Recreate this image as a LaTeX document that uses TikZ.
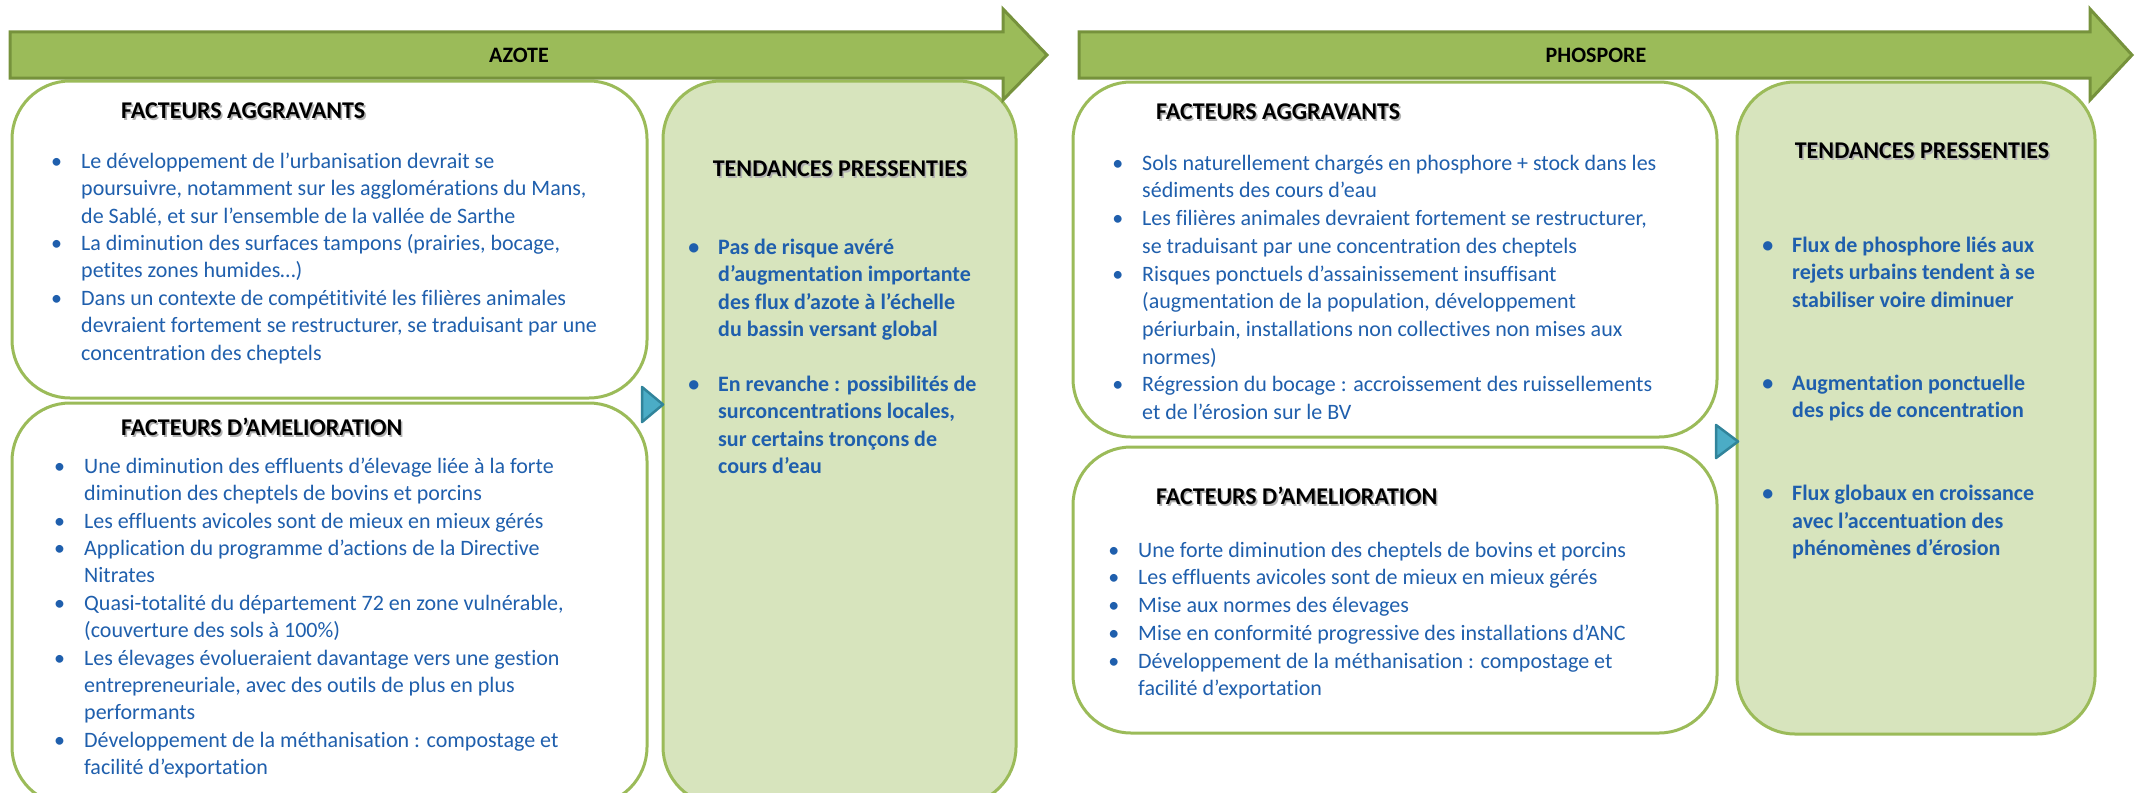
\documentclass[tikz,border=0pt]{standalone}
\usepackage{fontspec}
\setmainfont{Carlito}[Ligatures={NoCommon}]
\definecolor{leafgreen}{HTML}{9BBB59}
\definecolor{darkleaf}{HTML}{76923C}
\definecolor{palegreen}{HTML}{D7E4BD}
\definecolor{textblue}{HTML}{1F5FAD}
\definecolor{tealfill}{HTML}{4BACC6}
\definecolor{tealline}{HTML}{31849B}
\newcommand\bul{\makebox[0pt][r]{\textbullet\hspace{19pt}}}
\newcommand\topstrut{\rule{0pt}{20pt}}
\newcommand\shadowed[1]{\makebox[0pt][l]{\hspace{1.6pt}\raisebox{-1.6pt}{\color{black!30}#1}}#1}

\begin{document}
\begin{tikzpicture}[x=1pt, y=-1pt,
    box/.style={draw=leafgreen, line width=3pt, rounded corners=58pt, fill=white},
    trend/.style={box, fill=palegreen},
    band/.style={draw=darkleaf, line width=3pt, fill=leafgreen, line join=miter},
    pointer/.style={draw=tealline, line width=2.5pt, fill=tealfill, line join=round},
    head/.style={font=\fontsize{24}{28}\selectfont\bfseries, inner sep=0pt},
    bandlabel/.style={font=\fontsize{22}{26}\selectfont\bfseries, inner sep=0pt},
    facts/.style={text=textblue, align=left, inner sep=0pt, anchor=north west, font=\fontsize{22}{27.4}\selectfont},
    factsP/.style={facts, font=\fontsize{22}{27.7}\selectfont},
    trends/.style={facts, font=\fontsize{22}{27.4}\selectfont\bfseries}]
  \clip (0,0) rectangle (2143,792);

  % azote
  \node[box, minimum width=635pt, minimum height=317pt] (aggA) at (329.5,239.5) {};
  \node[box, minimum width=635pt, minimum height=402pt] (amelA) at (329.5,604) {};
  \node[trend, minimum width=353pt, minimum height=724pt] (trendA) at (839.5,443) {};
  \draw[band] (10,32) -- (1003,32) -- (1003,9) -- (1047,55) -- (1003,100) -- (1003,78) -- (10,78) -- cycle;
  \node[bandlabel] (azote) at (519,55) {AZOTE};
  \draw[pointer] (642,387) -- (663,404.5) -- (642,422) -- cycle;

  \node[head, anchor=west] (aggAh) at (121,112) {\shadowed{FACTEURS AGGRAVANTS}};
  \node[facts] (aggAt) at (81,148) {%
    \topstrut\bul Le développement de l’urbanisation devrait se\\
    poursuivre, notamment sur les agglomérations du Mans,\\
    de Sablé, et sur l’ensemble de la vallée de Sarthe\\
    \bul La diminution des surfaces tampons (prairies, bocage,\\
    petites zones humides…)\\
    \bul Dans un contexte de compétitivité les filières animales\\
    devraient fortement se restructurer, se traduisant par une\\
    concentration des cheptels};

  \node[head, anchor=west] (amelAh) at (121,428) {\shadowed{FACTEURS D’AMELIORATION}};
  \node[facts] (amelAt) at (84,453) {%
    \topstrut\bul Une diminution des effluents d’élevage liée à la forte\\
    diminution des cheptels de bovins et porcins\\
    \bul Les effluents avicoles sont de mieux en mieux gérés\\
    \bul Application du programme d’actions de la Directive\\
    Nitrates\\
    \bul Quasi-totalité du département 72 en zone vulnérable,\\
    (couverture des sols à 100\%)\\
    \bul Les élevages évolueraient davantage vers une gestion\\
    entrepreneuriale, avec des outils de plus en plus\\
    performants\\
    \bul Développement de la méthanisation : compostage et\\
    facilité d’exportation};

  \node[head] (trendAh) at (840,170) {\shadowed{TENDANCES PRESSENTIES}};
  \node[trends] (trendAt) at (718,234) {%
    \topstrut\bul Pas de risque avéré\\
    d’augmentation importante\\
    des flux d’azote à l’échelle\\
    du bassin versant global\\[27.4pt]
    \bul En revanche : possibilités de\\
    surconcentrations locales,\\
    sur certains tronçons de\\
    cours d’eau};

  % phosphore
  \node[box, minimum width=644pt, minimum height=355pt] (aggP) at (1395,259.5) {};
  \node[box, minimum width=644pt, minimum height=286pt] (amelP) at (1395,590) {};
  \node[trend, minimum width=358pt, minimum height=652pt] (trendP) at (1916,408) {};
  \draw[band] (1079,32) -- (2090,32) -- (2090,9) -- (2132,55) -- (2090,100) -- (2090,78) -- (1079,78) -- cycle;
  \node[bandlabel] (phospore) at (1596,55) {PHOSPORE};
  \draw[pointer] (1716,425) -- (1738,441.5) -- (1716,458) -- cycle;

  \node[head, anchor=west] (aggPh) at (1156,113) {\shadowed{FACTEURS AGGRAVANTS}};
  \node[factsP] (aggPt) at (1142,150) {%
    \topstrut\bul Sols naturellement chargés en phosphore + stock dans les\\
    sédiments des cours d’eau\\
    \bul Les filières animales devraient fortement se restructurer,\\
    se traduisant par une concentration des cheptels\\
    \bul Risques ponctuels d’assainissement insuffisant\\
    (augmentation de la population, développement\\
    périurbain, installations non collectives non mises aux\\
    normes)\\
    \bul Régression du bocage : accroissement des ruissellements\\
    et de l’érosion sur le BV};

  \node[head, anchor=west] (amelPh) at (1156,497) {\shadowed{FACTEURS D’AMELIORATION}};
  \node[factsP] (amelPt) at (1138,537) {%
    \topstrut\bul Une forte diminution des cheptels de bovins et porcins\\
    \bul Les effluents avicoles sont de mieux en mieux gérés\\
    \bul Mise aux normes des élevages\\
    \bul Mise en conformité progressive des installations d’ANC\\
    \bul Développement de la méthanisation : compostage et\\
    facilité d’exportation};

  \node[head] (trendPh) at (1922,152) {\shadowed{TENDANCES PRESSENTIES}};
  \node[trends, font=\fontsize{22}{27.6}\selectfont\bfseries] (trendPt) at (1792,232) {%
    \topstrut\bul Flux de phosphore liés aux\\
    rejets urbains tendent à se\\
    stabiliser voire diminuer\\[55.2pt]
    \bul Augmentation ponctuelle\\
    des pics de concentration\\[55.2pt]
    \bul Flux globaux en croissance\\
    avec l’accentuation des\\
    phénomènes d’érosion};
\end{tikzpicture}
\end{document}
